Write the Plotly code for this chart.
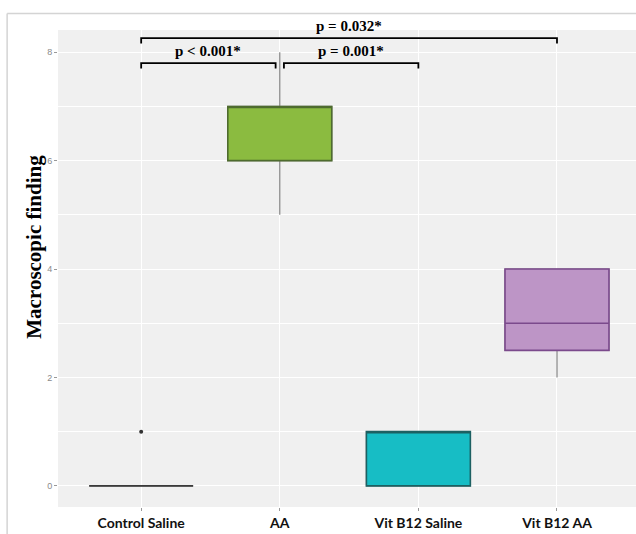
import plotly.graph_objects as go

# Macroscopic finding scores per group (box-plot summary statistics)
groups = ["Control Saline", "AA", "Vit B12 Saline", "Vit B12 AA"]
q1 = [0, 6, 0, 2.5]
median = [0, 7, 1, 3]
q3 = [0, 7, 1, 4]
lower_whisker = [0, 5, 0, 2]
upper_whisker = [0, 8, 1, 4]

# Outlying observations
outlier_group = ["Control Saline"]
outlier_value = [1]

# Pairwise comparisons: (group a, group b, label, bracket height)
comp_a = [0, 1, 0]
comp_b = [1, 2, 3]
comp_label = ["p < 0.001*", "p = 0.001*", "p = 0.032*"]
comp_level = [7.8, 7.8, 8.26]

fills = ["#5a5a5a", "#8bbb40", "#17bdc5", "#bd95c6"]
edges = ["#3a3a3a", "#4e6b2e", "#1d6062", "#7b4a8c"]

fig = go.Figure()

for i, g in enumerate(groups):
    # whiskers (grey) drawn underneath
    fig.add_trace(go.Box(
        x=[g], q1=[q1[i]], median=[median[i]], q3=[q3[i]],
        lowerfence=[lower_whisker[i]], upperfence=[upper_whisker[i]],
        width=0.75, whiskerwidth=0, fillcolor="rgba(0,0,0,0)",
        line=dict(color="#858585", width=1.2), boxpoints=False,
        showlegend=False, hoverinfo="skip",
    ))
    # filled box with darker outline and median
    fig.add_trace(go.Box(
        x=[g], q1=[q1[i]], median=[median[i]], q3=[q3[i]],
        lowerfence=[q1[i]], upperfence=[q3[i]],
        width=0.75, whiskerwidth=0,
        fillcolor=fills[i] if i else "rgba(0,0,0,0)",
        line=dict(color=edges[i], width=1.6), boxpoints=False,
        showlegend=False, name=g,
    ))

fig.add_trace(go.Scatter(
    x=outlier_group, y=outlier_value, mode="markers",
    marker=dict(color="#333333", size=4), showlegend=False,
))

# significance brackets
tick = 0.1
gap = 0.03
for a, b, lab, lvl in zip(comp_a, comp_b, comp_label, comp_level):
    xa = a + (gap if a == 1 else 0)
    xb = b - (gap if b == 1 else 0)
    fig.add_shape(
        type="path",
        path=f"M {xa},{lvl - tick} L {xa},{lvl} L {xb},{lvl} L {xb},{lvl - tick}",
        xref="x", yref="y", line=dict(color="black", width=1.8),
    )
    fig.add_annotation(
        x=(xa + xb) / 2, y=lvl, text=f"<b>{lab}</b>", showarrow=False,
        xref="x", yref="y", yanchor="bottom", yshift=2,
        font=dict(family="Liberation Serif", size=15, color="black"),
    )

# y-axis title
fig.add_annotation(
    text="<b>Macroscopic finding</b>", textangle=-90, showarrow=False,
    xref="paper", yref="paper", x=-0.043, y=0.546,
    xanchor="center", yanchor="middle",
    font=dict(family="Liberation Serif", size=21, color="black"),
)

# outer frame
frame = dict(color="#d4d4d4", width=1.5)
fig.add_shape(type="line", xref="paper", yref="paper",
              x0=-0.088, x1=-0.088, y0=-0.06, y1=1.0346, line=frame)
fig.add_shape(type="line", xref="paper", yref="paper",
              x0=-0.088, x1=1.02, y0=1.0346, y1=1.0346, line=frame)

fig.update_layout(
    width=636, height=534,
    margin=dict(l=58, r=0, t=30, b=27),
    paper_bgcolor="white", plot_bgcolor="#f0f0f0",
    boxmode="overlay", showlegend=False,
    yaxis=dict(
        range=[-0.39, 8.41], tickvals=[0, 2, 4, 6, 8],
        showgrid=True, gridcolor="white", gridwidth=1.2,
        minor=dict(dtick=1, tick0=0, showgrid=True, gridcolor="white", gridwidth=0.6),
        zeroline=False, ticks="outside", ticklen=3, tickcolor="#999999",
        tickfont=dict(family="Liberation Sans", size=9, color="#8a8a8a"),
    ),
    xaxis=dict(
        type="category", categoryorder="array", categoryarray=groups,
        range=[-0.6, 3.57],
        showgrid=True, gridcolor="white", gridwidth=1.2,
        zeroline=False, ticks="outside", ticklen=3, tickcolor="#999999",
        tickfont=dict(family="Lato", size=14, color="#111111", weight="bold"),
    ),
)

fig.write_html("out.html")
